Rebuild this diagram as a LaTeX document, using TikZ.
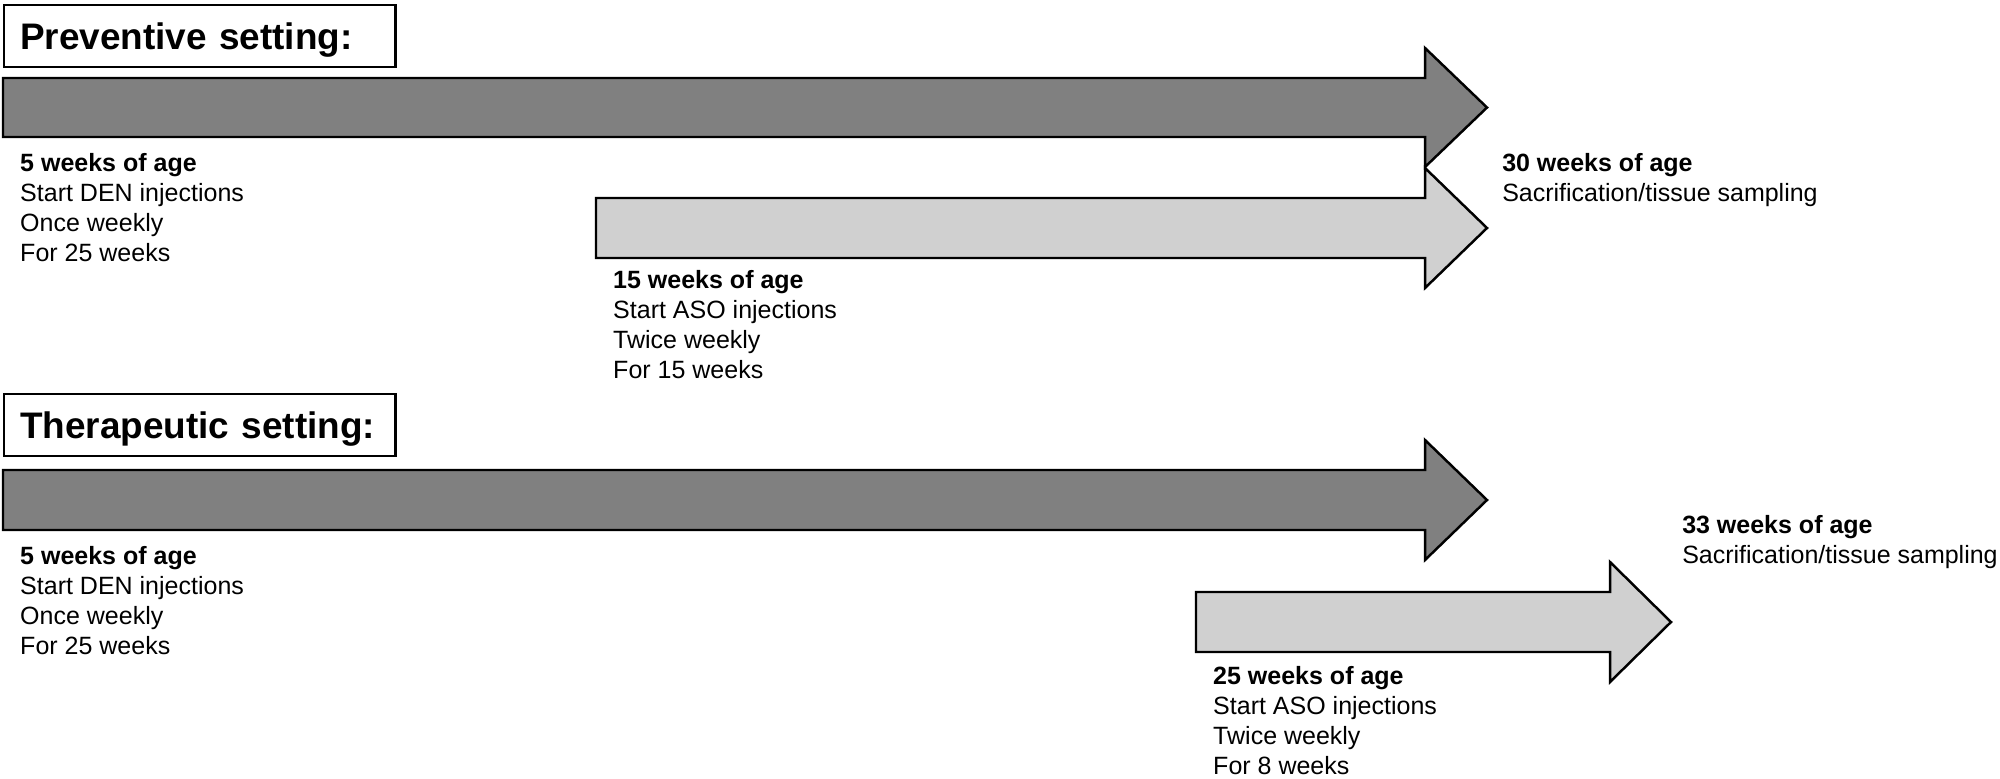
\documentclass[tikz,border=0pt]{standalone}
\usepackage{fontspec}
\setmainfont{Liberation Sans}
\usepackage{tikz}
\usetikzlibrary{positioning}

\definecolor{darkbar}{RGB}{128,128,128}
\definecolor{lightbar}{RGB}{208,208,208}

\begin{document}
\begin{tikzpicture}[x=0.01cm, y=-0.01cm, line width=0.7pt,
    setting/.style={draw, anchor=north west, inner xsep=0.16cm, inner ysep=0.175cm,
        text width=3.59cm, align=left, text height=0.265cm, text depth=0cm,
        font=\fontsize{10.5pt}{12pt}\selectfont\bfseries},
    info/.style={anchor=north west, inner sep=0pt, align=left,
        font=\fontsize{7.11pt}{8.54pt}\selectfont},
    bar/.style={draw, line join=miter}]
    \useasboundingbox (0,0) rectangle (2000,778);

    % Preventive setting
    \node [setting] (pretitle) at (3,4) {Preventive setting:};
    \draw [bar, fill=darkbar] (3,78) -- (1425,78) -- (1425,48) -- (1487,107.5) -- (1425,167) -- (1425,137) -- (3,137) -- cycle;
    \draw [bar, fill=lightbar] (596,198) -- (1425,198) -- (1425,168) -- (1487,228) -- (1425,288) -- (1425,258) -- (596,258) -- cycle;
    \node [info] (preden) at (19,152) {\textbf{5 weeks of age}\\Start DEN injections\\Once weekly\\For 25 weeks};
    \node [info] (preaso) at (612,269) {\textbf{15 weeks of age}\\Start ASO injections\\Twice weekly\\For 15 weeks};
    \node [info] (preend) at (1501,152) {\textbf{30 weeks of age}\\Sacrification/tissue sampling};

    % Therapeutic setting
    \node [setting] (thetitle) at (3,393) {Therapeutic setting:};
    \draw [bar, fill=darkbar] (3,470) -- (1425,470) -- (1425,440) -- (1487,500) -- (1425,560) -- (1425,530) -- (3,530) -- cycle;
    \draw [bar, fill=lightbar] (1196,592) -- (1610,592) -- (1610,562) -- (1671,622) -- (1610,682) -- (1610,652) -- (1196,652) -- cycle;
    \node [info] (theden) at (19,545) {\textbf{5 weeks of age}\\Start DEN injections\\Once weekly\\For 25 weeks};
    \node [info] (theaso) at (1212,665) {\textbf{25 weeks of age}\\Start ASO injections\\Twice weekly\\For 8 weeks};
    \node [info] (theend) at (1681,514) {\textbf{33 weeks of age}\\Sacrification/tissue sampling};
\end{tikzpicture}
\end{document}
